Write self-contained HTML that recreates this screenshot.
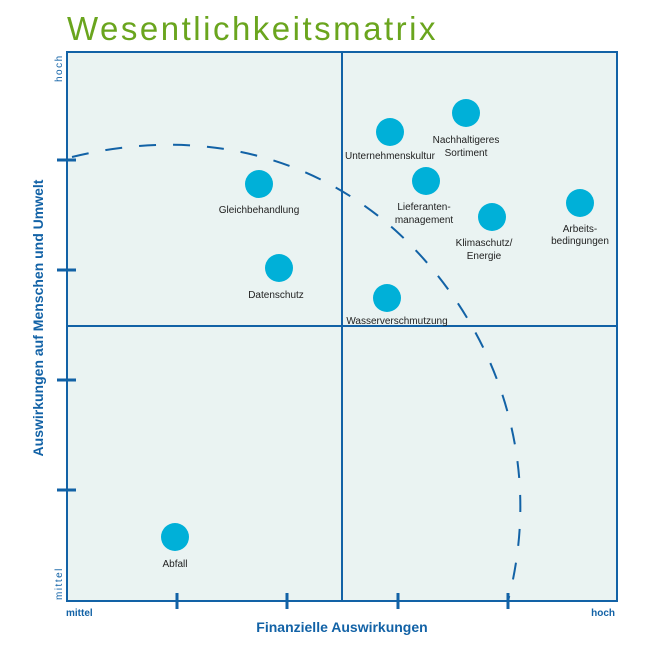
<html><head><style>body{margin:0;background:#fff}</style></head><body>
<svg width="650" height="650" xmlns="http://www.w3.org/2000/svg" font-family="Liberation Sans, sans-serif">
<text x="67" y="40" font-size="33" fill="#6aa51e" letter-spacing="2.5">Wesentlichkeitsmatrix</text>
<rect x="67" y="52" width="550" height="549" fill="#eaf3f2" stroke="#1262a6" stroke-width="2"/>
<line x1="342" y1="52" x2="342" y2="601" stroke="#1262a6" stroke-width="2"/>
<line x1="67" y1="326" x2="617" y2="326" stroke="#1262a6" stroke-width="2"/>
<g stroke="#1262a6" stroke-width="3">
<line x1="57" y1="160" x2="76" y2="160"/><line x1="57" y1="270" x2="76" y2="270"/><line x1="57" y1="380" x2="76" y2="380"/><line x1="57" y1="490" x2="76" y2="490"/>
<line x1="177" y1="593" x2="177" y2="609"/><line x1="287" y1="593" x2="287" y2="609"/><line x1="398" y1="593" x2="398" y2="609"/><line x1="508" y1="593" x2="508" y2="609"/>
</g>
<path d="M72,157 C190,128 305,150 395,230 C478,305 550,440 508,601" fill="none" stroke="#1262a6" stroke-width="2" stroke-dasharray="17,17"/>
<g fill="#00b0d8">
<circle cx="259" cy="184" r="14"/><circle cx="279" cy="268" r="14"/><circle cx="390" cy="132" r="14"/><circle cx="466" cy="113" r="14"/><circle cx="426" cy="181" r="14"/><circle cx="492" cy="217" r="14"/><circle cx="580" cy="203" r="14"/><circle cx="387" cy="298" r="14"/><circle cx="175" cy="537" r="14"/>
</g>
<g font-size="10" fill="#222" text-anchor="middle">
<text x="259" y="213">Gleichbehandlung</text>
<text x="276" y="298">Datenschutz</text>
<text x="390" y="159">Unternehmenskultur</text>
<text x="466" y="143">Nachhaltigeres</text><text x="466" y="156">Sortiment</text>
<text x="424" y="210">Lieferanten-</text><text x="424" y="223">management</text>
<text x="484" y="246">Klimaschutz/</text><text x="484" y="259">Energie</text>
<text x="580" y="232">Arbeits-</text><text x="580" y="244">bedingungen</text>
<text x="397" y="324">Wasserverschmutzung</text>
<text x="175" y="567">Abfall</text>
</g>
<text transform="translate(62,82) rotate(-90)" font-size="10" fill="#1262a6" letter-spacing="1.5">hoch</text>
<text transform="translate(62,600) rotate(-90)" font-size="10" fill="#1262a6" letter-spacing="1.5">mittel</text>
<text x="66" y="616" font-size="10" font-weight="bold" fill="#1262a6">mittel</text>
<text x="615" y="616" font-size="10" font-weight="bold" fill="#1262a6" text-anchor="end">hoch</text>
<text x="342" y="632" font-size="14" font-weight="bold" fill="#1262a6" text-anchor="middle">Finanzielle Auswirkungen</text>
<text transform="translate(43,318) rotate(-90)" font-size="14" font-weight="bold" fill="#1262a6" text-anchor="middle">Auswirkungen auf Menschen und Umwelt</text>
</svg>
</body></html>
